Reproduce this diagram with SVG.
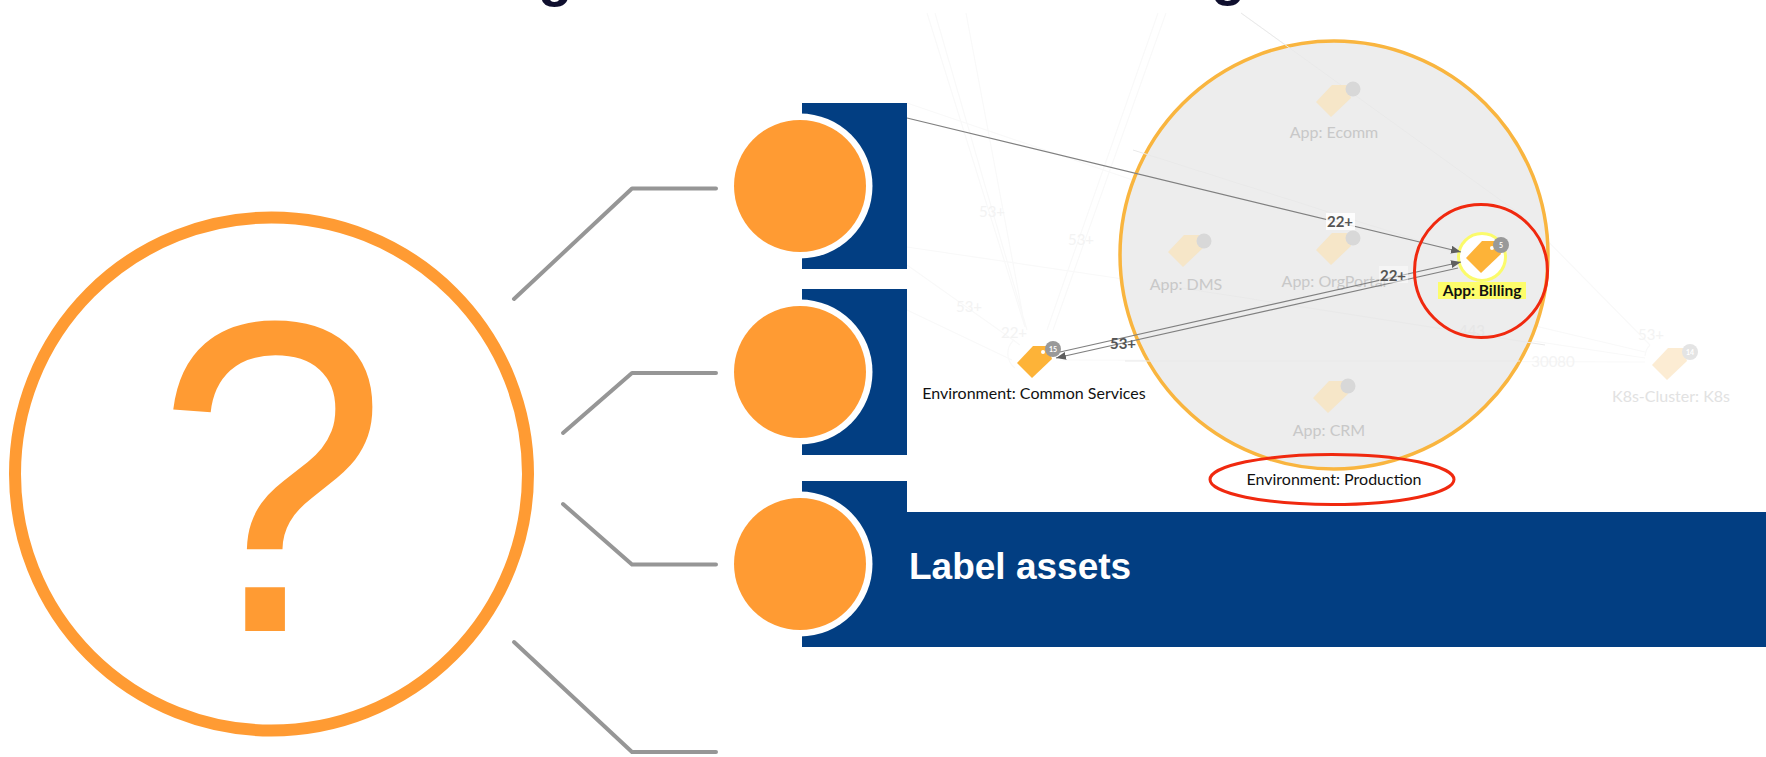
<svg xmlns="http://www.w3.org/2000/svg" width="1766" height="757" viewBox="0 0 1766 757">
<style>
.blue{fill:#023e82}
.ring{fill:#fff}
.dot{fill:#ff9b33}
.lead{fill:none;stroke:#969696;stroke-width:4;stroke-linecap:round;stroke-linejoin:round}
.faint{fill:none;stroke:#f9f9f9;stroke-width:1.2}
.fainter{fill:none;stroke:#e9e9e9;stroke-width:1}
.ft{font-family:Lato,"Liberation Sans",sans-serif;font-size:15px;fill:#f3f3f3;text-anchor:middle}
.edge{fill:none;stroke:#808080;stroke-width:1.2}
.el{font-family:Lato,"Liberation Sans",sans-serif;font-size:15px;fill:#555;text-anchor:middle;font-weight:700}
.lab{font-family:Lato,"Liberation Sans",sans-serif;font-size:16px;text-anchor:middle}
.badge{font-family:Lato,"Liberation Sans",sans-serif;font-size:7px;font-weight:700;fill:#fff;text-anchor:middle}
.title{font-family:"Liberation Sans",sans-serif;font-weight:700;font-size:56px;fill:#0f0f2e;text-anchor:middle}
</style>
<defs>
<marker id="arr" markerUnits="userSpaceOnUse" markerWidth="11" markerHeight="9" refX="10" refY="4" orient="auto"><path d="M0 0L10 4L0 8z" fill="#5f5f5f"/></marker>
<path id="tag" d="M-18 0L-3 15L17 -4L13 -17L-2 -17z"/>
</defs>
<rect width="1766" height="757" fill="#fff"/>
<text class="title" x="555" y="-5">g</text>
<text class="title" x="1228" y="-6">g</text>

<g id="faint-edges">
<path class="faint" d="M927 13L1025 327M935 13L1027 330M966 13L1025 327M1158 13L1047 330M1166 13L1053 330M907 103L1200 203L1480 260M907 247L1150 283L1645 358M907 265L1020 345M907 310L1012 360M1060 360L1645 362M1241 13L1524 217L1650 345M1340 280L1645 352"/>
<path class="faint" d="M1650 345A18 18 0 0 0 1645 356"/>
<path class="faint" d="M1014 340A18 18 0 0 0 1015 368"/>
</g>

<g id="environment-production">
<circle cx="1334" cy="255" r="214" fill="#ededed" stroke="#f9b53f" stroke-width="3.5"/>
<path class="fainter" d="M1241 13L1524 217M1133 150L1480 260M1150 283L1545 345M1125 361L1520 361"/>
<text class="lab" x="1334" y="485" fill="#111">Environment: Production</text>
</g>

<g id="faint-labels">
<text class="ft" x="992" y="217">53+</text>
<text class="ft" x="1081" y="245">53+</text>
<text class="ft" x="969" y="312">53+</text>
<text class="ft" x="1014" y="338">22+</text>
<text class="ft" x="1651" y="340">53+</text>
<text class="ft" x="1553" y="367">30080</text>
<text class="ft" x="1472" y="336" style="fill:#e6e6e6">443</text>
</g>

<g id="node-ecomm">
<use href="#tag" x="1334" y="102" fill="#f6e6c8"/>
<circle cx="1353" cy="89" r="7.5" fill="#d8d8d8"/>
<text class="lab" x="1334" y="138" fill="#c8c8c8">App: Ecomm</text>
</g>
<g id="node-dms">
<use href="#tag" x="1186" y="252" fill="#f6e6c8"/>
<circle cx="1204" cy="241" r="7.5" fill="#d8d8d8"/>
<text class="lab" x="1186" y="290" fill="#c8c8c8">App: DMS</text>
</g>
<g id="node-orgportal">
<use href="#tag" x="1334" y="250" fill="#f6e6c8"/>
<circle cx="1353" cy="238" r="7.5" fill="#d8d8d8"/>
<text class="lab" x="1334" y="287" fill="#c8c8c8">App: OrgPortal</text>
</g>
<g id="node-crm">
<use href="#tag" x="1331" y="398" fill="#f6e6c8"/>
<circle cx="1348" cy="386" r="7.5" fill="#d8d8d8"/>
<text class="lab" x="1329" y="436" fill="#c8c8c8">App: CRM</text>
</g>
<g id="node-k8s">
<use href="#tag" x="1670" y="365" fill="#fcecd3"/>
<circle cx="1690" cy="352" r="8" fill="#e4e4e4"/>
<text class="badge" x="1690" y="355">14</text>
<text class="lab" x="1671" y="402" fill="#e2e2e2">K8s-Cluster: K8s</text>
</g>

<g id="node-common-services">
<use href="#tag" x="1035" y="363" fill="#fdb338"/>
<circle cx="1043" cy="352" r="2" fill="#fff"/>
<circle cx="1053" cy="349" r="8" fill="#999"/>
<text class="badge" x="1053" y="352">15</text>
<text class="lab" x="1034" y="399" fill="#111">Environment: Common Services</text>
</g>

<g id="node-billing">
<circle cx="1482" cy="257" r="23.5" fill="#fff" stroke="#fbfb6b" stroke-width="3"/>
<use href="#tag" x="1484" y="258" fill="#fdb338"/>
<circle cx="1492" cy="248" r="2" fill="#fff"/>
<circle cx="1501" cy="245" r="8" fill="#999"/>
<text class="badge" x="1501" y="248">5</text>
<rect x="1438" y="282" width="88" height="17" fill="#fdfd6b"/>
<text class="lab" x="1482" y="295.500" fill="#111" style="font-size:15.500px;font-weight:700">App: Billing</text>
</g>

<g id="connectors">
<path class="edge" d="M907 118L1461 252" marker-end="url(#arr)"/>
<path class="edge" d="M1060 352L1461 262" marker-end="url(#arr)"/>
<path class="edge" d="M1458 268L1056 358" marker-end="url(#arr)"/>
<rect x="1326" y="213" width="29" height="17" fill="#fff" opacity=".85"/>
<text class="el" x="1340" y="227">22+</text>
<rect x="1379" y="266" width="29" height="17" fill="#fff" opacity=".45"/>
<text class="el" x="1393" y="281">22+</text>
<text class="el" x="1123" y="349">53+</text>
<path class="lead" d="M514 299L632 188.500H716"/>
<path class="lead" d="M563 433L632 373H716"/>
<path class="lead" d="M563 504L632 564.500H716"/>
<path class="lead" d="M514 642L632 752H716"/>
</g>

<g id="callouts">
<circle cx="1481" cy="271" r="66.5" fill="none" stroke="#f0290f" stroke-width="3"/>
<ellipse cx="1332" cy="479.5" rx="122" ry="25" fill="none" stroke="#f0290f" stroke-width="3"/>
</g>

<g id="question">
<circle cx="271.500" cy="474" r="256.500" fill="#fff" stroke="#ff9b33" stroke-width="12"/>
<text transform="translate(272 631) scale(.98 1.046)" font-family="Liberation Sans,sans-serif" font-size="425" fill="#ff9b33" text-anchor="middle">?</text>
</g>

<g id="step-1">
<rect class="blue" x="802" y="103" width="105" height="166"/>
<circle class="ring" cx="800" cy="186" r="72.5"/>
<circle class="dot" cx="800" cy="186" r="66"/>
</g>
<g id="step-2">
<rect class="blue" x="802" y="289" width="105" height="166"/>
<circle class="ring" cx="800" cy="372" r="72.5"/>
<circle class="dot" cx="800" cy="372" r="66"/>
</g>
<g id="step-3">
<path class="blue" d="M802 481H907V512H1766V647H802z"/>
<circle class="ring" cx="800" cy="564" r="72.5"/>
<circle class="dot" cx="800" cy="564" r="66"/>
<text x="909" y="578.500" font-family="Liberation Sans,sans-serif" font-weight="700" font-size="37" fill="#fff">Label assets</text>
</g>
</svg>
